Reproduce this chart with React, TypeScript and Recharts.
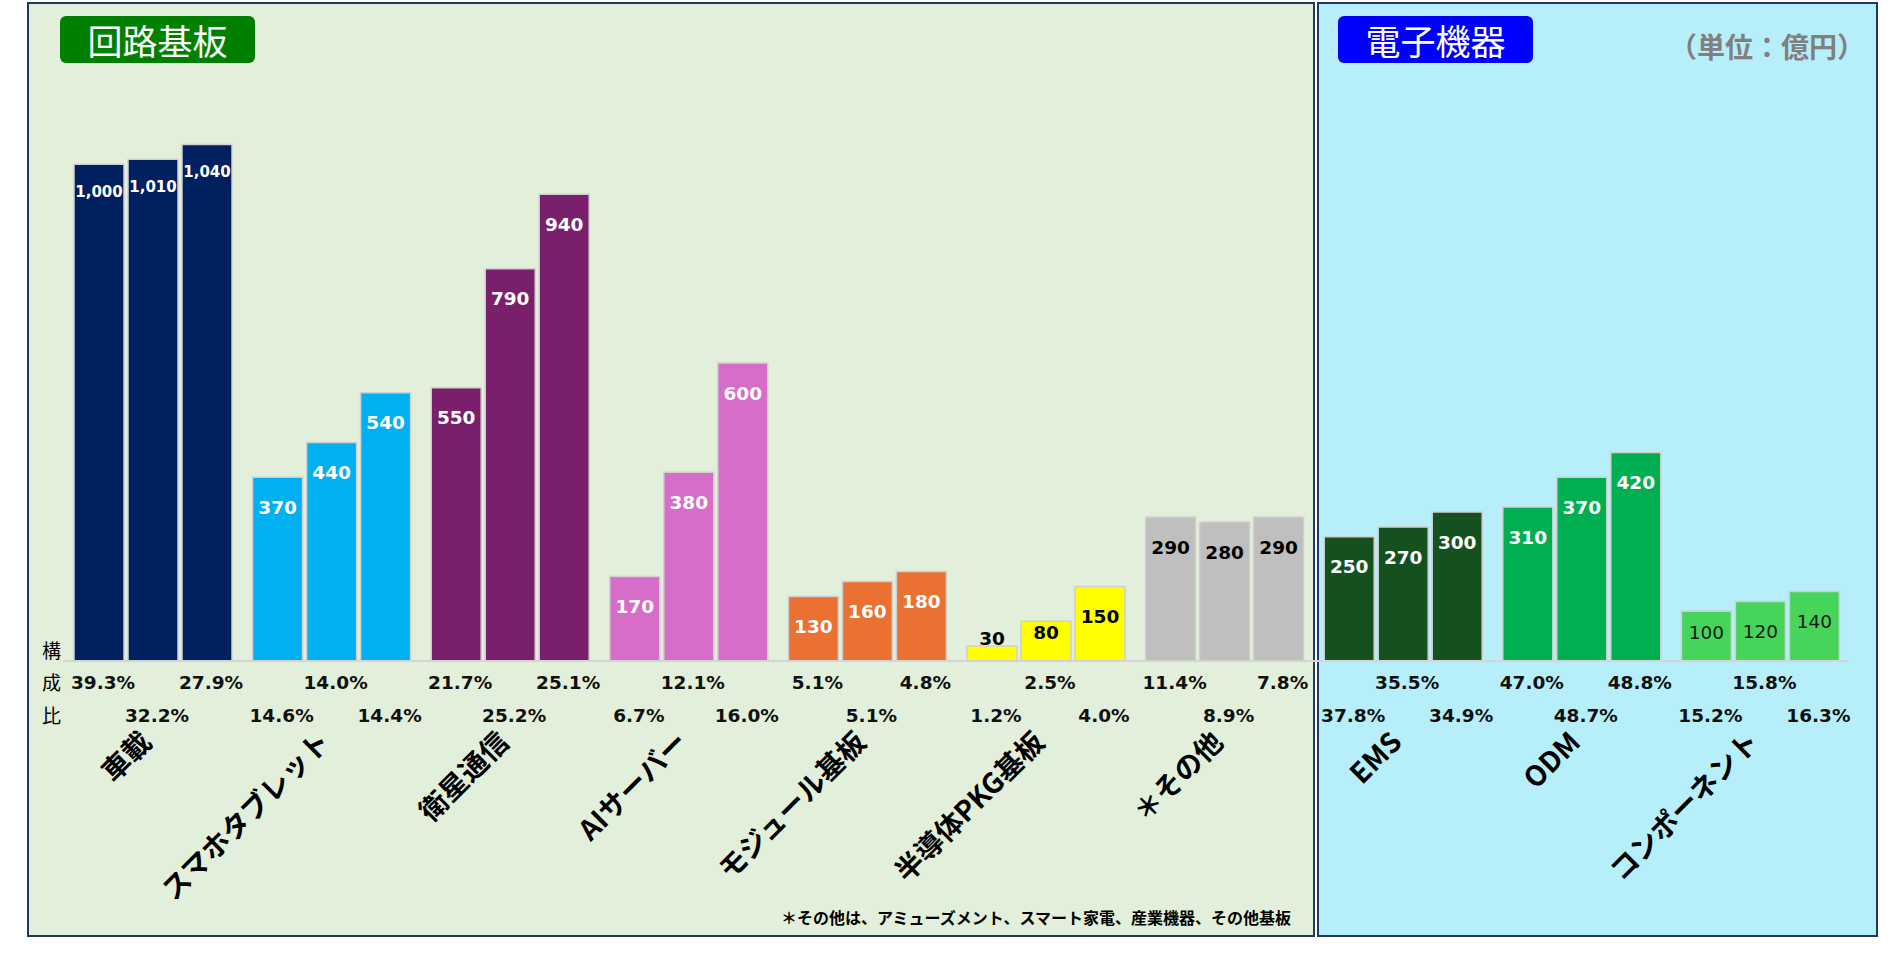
import React from 'react';
import { BarChart, Bar, XAxis, YAxis, LabelList, Cell } from 'recharts';

// 売上高（億円）: 3 periods per segment
const categories = [
  '車載', 'スマホタブレット', '衛星通信', 'AIサーバー', 'モジュール基板',
  '半導体PKG基板', '＊その他', 'EMS', 'ODM', 'コンポーネント',
];
const sales1 = [1000, 370, 550, 170, 130, 30, 290, 250, 310, 100];
const sales2 = [1010, 440, 790, 380, 160, 80, 280, 270, 370, 120];
const sales3 = [1040, 540, 940, 600, 180, 150, 290, 300, 420, 140];

// 構成比
const share1 = ['39.3%', '14.6%', '21.7%', '6.7%', '5.1%', '1.2%', '11.4%', '37.8%', '47.0%', '15.2%'];
const share2 = ['32.2%', '14.0%', '25.2%', '12.1%', '5.1%', '2.5%', '8.9%', '35.5%', '48.7%', '15.8%'];
const share3 = ['27.9%', '14.4%', '25.1%', '16.0%', '4.8%', '4.0%', '7.8%', '34.9%', '48.8%', '16.3%'];

const barColors = [
  '#002060', '#00B0F0', '#7A1F6B', '#D66DC8', '#EB7133',
  '#FFFF00', '#BFBFBF', '#14511F', '#00B050', '#47D45A',
];
const valueColors = ['#fff', '#fff', '#fff', '#fff', '#fff', '#000', '#000', '#fff', '#fff', '#1a1a1a'];

const data = categories.map((name, i) => ({ name, v1: sales1[i], v2: sales2[i], v3: sales3[i] }));

const NUM_FONT = '"DejaVu Sans", Verdana, sans-serif';
const JP_FONT = '"Noto Sans CJK JP", "Noto Sans", sans-serif';
const ROW1_Y = 682;
const ROW2_Y = 715;

const makeValueLabel = (values: number[]) => (props: any) => {
  const box = props.viewBox ?? props;
  const { x, y, width, height } = box;
  const index: number = props.index;
  const v = values[index];
  const cx = x + width / 2;
  const base = y + height;
  let cy = Math.min(y + 30, base - 29);
  let size = 18.5;
  if (v >= 1000) {
    cy = y + 27;
    size = 15;
  }
  if (height < 25) cy = y - 8;
  const light = index === 9;
  return (
    <text
      x={cx}
      y={cy}
      dy="0.36em"
      textAnchor="middle"
      fill={valueColors[index]}
      fontFamily={NUM_FONT}
      fontWeight={light ? 'normal' : 'bold'}
      fontSize={size}
    >
      {v.toLocaleString('en-US')}
    </text>
  );
};

const makeShareLabel = (shares: string[], series: number) => (props: any) => {
  const box = props.viewBox ?? props;
  const { x, width } = box;
  const index: number = props.index;
  const row = (index * 3 + series) % 2 === 0 ? ROW1_Y : ROW2_Y;
  return (
    <text
      x={x + width / 2 + 4}
      y={row}
      dy="0.36em"
      textAnchor="middle"
      fill="#111"
      fontFamily={NUM_FONT}
      fontWeight="bold"
      fontSize={18.5}
    >
      {shares[index]}
    </text>
  );
};

const CategoryTick = (props: any) => {
  const { x, payload } = props;
  const ax = x + 1;
  const ay = 744;
  return (
    <text
      x={ax}
      y={ay}
      transform={`rotate(-45 ${ax} ${ay})`}
      textAnchor="end"
      fill="#000"
      fontFamily={JP_FONT}
      fontWeight="bold"
      fontSize={28}
    >
      {payload.value}
    </text>
  );
};

const series = [
  { key: 'v1', values: sales1, shares: share1 },
  { key: 'v2', values: sales2, shares: share2 },
  { key: 'v3', values: sales3, shares: share3 },
];

const badge = (left: number, color: string): React.CSSProperties => ({
  position: 'absolute',
  left,
  top: 16,
  width: 195,
  height: 47,
  borderRadius: 6,
  background: color,
  color: '#fff',
  fontFamily: JP_FONT,
  fontSize: 35,
  lineHeight: '47px',
  textAlign: 'center',
});

export default function App() {
  return (
    <div style={{ position: 'absolute', left: 0, top: 0, width: 1896, height: 975, background: '#fff' }}>
      {/* 回路基板 panel */}
      <div
        style={{
          position: 'absolute', left: 27, top: 2, width: 1288, height: 935,
          boxSizing: 'border-box', background: '#E2EFDA', border: '2px solid #1F3864',
        }}
      />
      {/* 電子機器 panel */}
      <div
        style={{
          position: 'absolute', left: 1317, top: 2, width: 561, height: 935,
          boxSizing: 'border-box', background: '#B6EFFA', border: '2px solid #1F3864',
        }}
      />

      <div style={{ position: 'absolute', left: 0, top: 0 }}>
        <BarChart
          width={1896}
          height={975}
          data={data}
          margin={{ top: 65, right: 47, bottom: 0, left: 63 }}
          barCategoryGap={11}
          barGap={4}
        >
          <XAxis
            dataKey="name"
            interval={0}
            height={314}
            tickLine={false}
            axisLine={{ stroke: '#D4D4D4', strokeWidth: 2 }}
            tick={<CategoryTick />}
          />
          <YAxis hide domain={[0, 1200]} />
          {series.map((s, si) => (
            <Bar key={s.key} dataKey={s.key} isAnimationActive={false} stroke="#D0D0D0" strokeWidth={1.5}>
              {data.map((_, i) => (
                <Cell key={`c-${i}`} fill={barColors[i]} />
              ))}
              <LabelList dataKey={s.key} content={makeValueLabel(s.values)} />
              <LabelList dataKey={s.key} content={makeShareLabel(s.shares, si)} />
            </Bar>
          ))}
        </BarChart>
      </div>

      <div style={badge(60, '#008000')}>回路基板</div>
      <div style={badge(1338, '#0000FF')}>電子機器</div>

      <div
        style={{
          position: 'absolute', right: 31, top: 28, lineHeight: '36px', whiteSpace: 'nowrap',
          color: '#808080', fontFamily: JP_FONT, fontWeight: 'bold', fontSize: 28,
        }}
      >
        （単位：億円）
      </div>

      {['構', '成', '比'].map((ch, i) => (
        <div
          key={ch}
          style={{
            position: 'absolute', left: 42, top: [650, ROW1_Y, ROW2_Y][i] - 13, lineHeight: '26px',
            fontFamily: JP_FONT, fontSize: 19, color: '#000',
          }}
        >
          {ch}
        </div>
      ))}

      <div
        style={{
          position: 'absolute', right: 605, top: 906, lineHeight: '22px', whiteSpace: 'nowrap',
          fontFamily: JP_FONT, fontWeight: 'bold', fontSize: 16, color: '#000',
        }}
      >
        ＊その他は、アミューズメント、スマート家電、産業機器、その他基板
      </div>
    </div>
  );
}
